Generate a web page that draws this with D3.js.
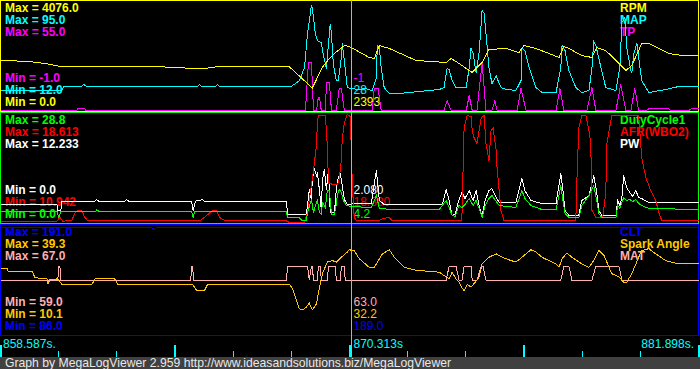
<!DOCTYPE html>
<html>
<head>
<meta charset="utf-8">
<script src="https://cdn.jsdelivr.net/npm/d3@7"></script>
<style>
  html, body { margin: 0; padding: 0; background: #000; }
  svg { display: block; }
  text { font-family: "Liberation Sans", Arial, sans-serif; font-size: 12px; }
  .bold { font-weight: bold; }
  .trace { fill: none; stroke-width: 1; shape-rendering: crispEdges; }
  .ticks path.domain { display: none; }
  .ticks line { stroke: #00ffff; shape-rendering: crispEdges; }
</style>
</head>
<body>
<svg id="chart" width="700" height="369"></svg>
<script>
var windowStart = 858.587
var windowEnd = 881.898
var cursorTime = 870.313
var timeLabels = ["858.587s.", "870.313s", "881.898s."]
var footerText = "Graph by MegaLogViewer 2.959 http://www.ideasandsolutions.biz/MegaLogViewer"

var seriesNames = ["RPM", "MAP", "TP", "DutyCycle1", "AFR(WBO2)", "PW", "CLT", "Spark Angle", "MAT"]
var seriesMax = [4076, 95, 55, 28.8, 18.613, 12.233, 191, 39.3, 67]
var seriesMin = [0, 12, -1, 0, 10.942, 0, 86, 10.1, 59]
var maxDigits = [1, 1, 1, 1, 3, 3, 1, 1, 1]
var minDigits = [1, 1, 1, 1, 3, 1, 1, 1, 1]
var cursorValue = [2393, 28, -1, 4.2, 18.38, 2.08, 189, 32.2, 63]
var cursorDigits = [0, 0, 0, 1, 3, 3, 1, 1, 1]

// [seconds from window start, value]
var rpm = [[0,1889],[1.1,1814],[1.5,1758],[2.1,1627],[4.33,1646],[5.5,1627],[6.5,1571],[6.83,1571],[7.17,1627],
  [9.67,1627],[10.43,842],[10.77,1619],[11,1945],[11.17,2132],[11.5,2431],[11.67,2393],[12.33,1982],[12.5,1945],
  [12.67,2431],[13,2319],[13.9,1870],[14.9,1795],[15.07,1945],[15.33,1758],[15.77,1421],[16.1,1795],[16.33,2281],
  [16.9,2319],[17.33,2169],[17.5,2431],[17.9,2319],[18.33,2132],[18.67,1982],[18.83,2394],[19,2319],[19.43,2057],
  [19.77,1982],[19.93,2356],[20.23,2244],[20.57,1870],[20.9,1496],[21.1,1683],[21.33,2244],[21.43,2506],
  [21.67,2506],[22,2319],[22.33,2132],[22.77,2057],[23.4,2057]]

var map = [[0,27.6],[2.07,27.6],[2.13,30.3],[2.73,30.3],[2.8,31.8],[2.9,30.3],[6.6,30.3],[6.67,31.8],[6.73,30.3],
  [7.2,30.3],[7.27,31.8],[7.33,30.3],[9.73,30.3],[10,34.8],[10.17,44.7],[10.27,70.6],[10.4,91.9],[10.43,90.4],
  [10.53,70.6],[10.6,65.3],[10.73,63.7],[10.77,57.7],[10.9,44],[10.97,63],[11.03,78.2],[11.07,70.6],[11.13,47.8],
  [11.23,34.8],[11.3,34.8],[11.4,52.3],[11.43,63],[11.5,50.1],[11.6,29.5],[11.73,28.7],[12,28],[12.2,28.7],
  [12.43,27.2],[12.57,37.1],[12.6,61.5],[12.67,59.9],[12.73,44.7],[12.83,29.5],[13,24.9],[13.33,24.9],[14,26.5],
  [14.67,28],[14.83,29.5],[14.93,44],[15,43],[15.1,34.8],[15.23,29.5],[15.57,29.5],[15.67,44.7],[15.73,59.2],
  [15.8,55.4],[15.9,40.9],[16,56],[16.1,88.1],[16.17,86],[16.23,70.6],[16.33,44.7],[16.43,32.5],[16.57,38.6],
  [16.67,32.5],[16.77,28.7],[17.23,27.2],[17.4,34.8],[17.43,59.2],[17.53,57.7],[17.67,44.7],[17.9,29.5],
  [18.1,25.7],[18.57,25.7],[18.73,44.7],[18.77,61.5],[18.87,57.7],[19,42.4],[19.23,29.5],[19.43,25.7],
  [19.67,27.2],[19.77,44.7],[19.83,64.5],[19.9,61.5],[20.07,44.7],[20.23,29.5],[20.57,27.2],[20.7,44.7],
  [20.77,79],[20.87,82.8],[20.93,59.9],[21.07,42.4],[21.1,40.9],[21.17,55.4],[21.27,63],[21.33,52.3],
  [21.43,34.8],[21.67,25.7],[22.23,28],[22.67,30.3],[23.4,30.3]]

var tp = [[0,-1],[2.57,-1],[2.6,0],[2.83,0],[2.87,-1],[10.2,-1],[10.3,23.7],[10.4,23.7],[10.47,-1],[10.57,-1],
  [10.63,5.7],[10.67,5.7],[10.73,-1],[10.87,-1],[10.9,13.4],[11,13.4],[11.07,-1],[11.23,-1],[11.33,10.3],
  [11.4,10.3],[11.5,-1],[12.43,-1],[12.5,10.3],[12.63,10.3],[12.73,-1],[14.83,-1],[14.93,4.1],[15.07,-1],
  [15.57,-1],[15.67,6.7],[15.77,-1],[15.93,-1],[16.1,23.7],[16.23,-1],[16.43,-1],[16.53,4.1],[16.6,-1],
  [17.27,-1],[17.4,10.3],[17.57,-1],[18.57,-1],[18.7,10.3],[18.83,-1],[19.6,-1],[19.77,10.8],[19.9,-1],
  [20.57,-1],[20.73,12.4],[20.9,-1],[21.07,-1],[21.2,10.3],[21.33,-1],[21.6,-1],[21.67,0],[22.33,0],
  [22.4,-1],[23,-1],[23.1,0],[23.4,0]]

var duty = [[0,2.98],[1.9,2.98],[1.97,1.32],[2.03,2.98],[3.2,2.98],[3.23,3.43],[3.3,2.98],[6.4,2.98],[6.45,1.32],
  [6.5,2.98],[9.57,2.98],[9.6,1.24],[10,1.24],[10.07,0.66],[10.23,0.66],[10.27,2.64],[10.4,6.07],[10.47,2.64],
  [10.53,4.49],[10.6,5.81],[10.67,2.64],[10.73,2.11],[10.77,5.28],[10.87,3.96],[10.93,8.45],[11,8.45],
  [11.07,2.11],[11.17,2.11],[11.23,4.75],[11.27,7.39],[11.33,8.71],[11.4,7.92],[11.47,5.81],[11.57,4.49],
  [11.73,4.22],[12.4,3.96],[12.57,7.13],[12.67,3.7],[13.1,3.43],[14.67,3.43],[14.9,5.81],[15,3.96],[15.1,1.85],
  [15.2,1.58],[15.33,4.49],[15.43,3.96],[15.53,4.75],[15.67,6.34],[15.8,4.49],[15.9,5.81],[16,3.7],[16.1,1.32],
  [16.2,4.49],[16.33,6.34],[16.43,7.13],[16.57,5.54],[16.67,4.49],[17.23,3.96],[17.43,8.45],[17.53,6.34],
  [17.73,4.49],[18.1,3.43],[18.57,3.43],[18.73,9.77],[18.8,5.81],[18.87,2.38],[19,1.32],[19.33,1.32],
  [19.43,4.49],[19.67,7.13],[19.83,9.77],[19.93,5.81],[20,2.38],[20.1,1.32],[20.57,1.32],[20.63,4.49],
  [20.7,3.7],[20.83,6.6],[20.93,5.81],[21.03,6.07],[21.13,5.54],[21.23,6.07],[21.33,5.02],[21.43,4.49],
  [21.67,3.7],[23.4,3.43]]

var afr = [[0,11.03],[1.9,11.03],[2,11.31],[2.1,11.03],[2.4,11.1],[2.5,11.58],[2.6,11.79],[2.73,11.79],
  [2.83,11.31],[2.93,11.08],[6.67,11.05],[6.83,11.31],[7.1,11.79],[7.23,11.79],[7.33,11.31],[7.5,11.08],
  [9.57,11.05],[9.67,10.94],[10.17,10.94],[10.27,11.65],[10.43,13.97],[10.57,16.36],[10.6,17.98],[10.63,18.47],
  [10.87,18.47],[10.93,16.36],[10.97,13.76],[11.1,13.62],[11.27,13.62],[11.33,13.97],[11.4,15.38],[11.43,16.79],
  [11.5,17.98],[11.6,18.55],[11.7,18.38],[11.77,13.41],[11.83,11.3],[11.9,11.08],[12.67,11.08],[12.77,11.22],
  [13,11.29],[13.1,11.08],[15.4,11.08],[15.43,11.65],[15.5,17.63],[15.6,18.47],[15.73,18.4],[15.77,17.42],
  [15.83,16.93],[15.93,16.5],[16.07,18.33],[16.17,18.47],[16.23,16.5],[16.33,15.31],[16.4,17.42],[16.47,17.56],
  [16.57,16.01],[16.6,14.81],[16.73,11.79],[16.83,11.08],[19.23,11.08],[19.27,14.11],[19.33,17.63],[19.43,18.47],
  [19.57,18.47],[19.67,17.42],[19.73,16.5],[19.77,11.79],[19.9,11.29],[20.13,11.29],[20.23,12.98],[20.27,16.5],
  [20.43,18.47],[21.33,18.47],[21.43,15.52],[21.57,14.11],[21.73,13.19],[21.9,12.49],[22,11.65],[22.1,11.08],
  [23.4,11.08]]

var pw = [[0,2.02],[1.9,2.02],[1.93,1.35],[2.03,1.35],[2.07,2.39],[3.17,2.39],[3.23,2.58],[3.3,2.39],[4.17,2.39],
  [4.23,2.58],[4.3,2.39],[6.4,2.39],[6.45,1.35],[6.53,2.39],[6.77,2.58],[6.83,2.39],[9.57,2.39],[9.6,0.9],
  [10.23,0.9],[10.27,1.91],[10.33,3.7],[10.4,2.58],[10.43,4.82],[10.5,5.95],[10.57,5.27],[10.6,5.61],[10.67,3.59],
  [10.73,1.46],[10.77,4.82],[10.83,5.95],[10.9,3.7],[10.97,5.95],[11.03,1.12],[11.17,1.12],[11.23,3.7],
  [11.3,5.05],[11.37,5.39],[11.43,4.15],[11.5,2.58],[11.6,2.02],[11.73,2.08],[12.4,2.13],[12.57,5.83],
  [12.67,2.47],[12.83,2.02],[14.77,2.02],[14.9,3.7],[15,2.47],[15.1,0.79],[15.2,0.9],[15.33,2.58],[15.43,3.37],
  [15.53,2.69],[15.67,3.59],[15.8,2.47],[15.9,3.59],[16,1.91],[16.1,0.67],[16.2,2.47],[16.33,3.59],[16.43,3.81],
  [16.57,2.81],[16.67,2.24],[17.23,2.24],[17.43,4.94],[17.53,3.59],[17.73,2.47],[18.1,2.13],[18.57,2.13],
  [18.73,5.5],[18.8,3.59],[18.87,1.35],[19,0.79],[19.33,0.79],[19.43,2.47],[19.67,3.03],[19.83,5.27],[19.93,3.37],
  [20,1.35],[20.1,0.79],[20.57,0.79],[20.63,2.47],[20.7,1.91],[20.77,2.81],[20.83,5.27],[20.93,3.93],[21.03,3.37],
  [21.13,2.92],[21.23,3.59],[21.33,2.81],[21.43,2.69],[21.67,2.24],[23.4,2.24]]

var clt = [[0,189],[5.07,189],[5.15,187],[5.23,189],[23.4,189]]

var spark = [[0,27.9],[0.23,27.9],[0.27,27.1],[1.07,27.1],[1.17,25.3],[1.57,25],[1.6,23.7],[1.67,24.8],[1.93,25],
  [2.07,23.5],[3.07,23.5],[3.17,25],[3.83,25],[3.93,23.5],[6.43,23.5],[6.57,21.9],[6.83,21.9],[6.93,23.5],
  [9.67,23.5],[9.77,22.4],[9.9,19.2],[10,17],[10.1,16.7],[10.23,17.4],[10.33,18.5],[10.43,16.7],[10.57,18.3],
  [10.67,22.8],[10.77,26.4],[10.93,29.5],[11.1,29.9],[11.23,29.5],[11.4,30.8],[11.6,32.2],[11.67,32.8],
  [11.83,32.5],[12,30.4],[12.33,28.1],[12.5,28.1],[12.77,31.7],[13,32.8],[13.17,30.8],[13.5,28.1],[13.9,27.3],
  [14.67,26.8],[14.9,25.5],[15,25],[15.1,26.8],[15.23,25],[15.33,24.1],[15.43,22.5],[15.5,21.9],[15.6,23.5],
  [15.73,22.8],[15.9,24.4],[16,25.5],[16.1,29],[16.33,30.8],[16.57,31.7],[16.77,30.8],[17.07,29.9],[17.23,29.5],
  [17.57,31.7],[17.73,32.8],[17.9,32.2],[18.1,30.8],[18.33,29.9],[18.57,29],[18.67,28.1],[18.77,30.4],
  [18.93,31.9],[19.1,30.8],[19.43,29],[19.67,28.1],[19.83,29.9],[20,32.6],[20.17,31.3],[20.43,26.4],
  [20.67,25.5],[20.83,24.1],[20.93,24.1],[21.1,26.4],[21.33,30.8],[21.43,32.6],[21.67,33.1],[21.9,31.7],
  [22.23,29.9],[22.67,29],[23.4,29]]

var mat = [[0,63],[1.93,63],[1.97,64],[2,64],[2.03,63],[6.37,63],[6.4,64],[6.43,64],[6.47,63],[9.57,63],
  [9.6,64],[10.27,64],[10.33,63],[10.4,64],[10.43,64],[10.47,63],[10.6,63],[10.63,64],[10.7,64],[10.73,63],
  [10.93,63],[10.97,64],[11.2,64],[11.23,63],[11.37,63],[11.4,64],[11.5,64],[11.53,63],[14.9,63],[15,64],
  [15.23,64],[15.33,63],[15.43,63],[15.5,64],[15.73,64],[15.77,63],[15.93,63],[16.07,64],[16.13,64],[16.23,63],
  [18.73,63],[18.83,64],[19,64],[19.1,63],[19.77,63],[19.9,64],[20.67,64],[20.77,63],[23.4,63]]

var seriesData = [rpm, map, tp, duty, afr, pw, clt, spark, mat]
var seriesColors = ["#ffff00", "#00ffff", "#ff00ff", "#00ff00", "#ff0000", "#ffffff", "#0000ff", "#ffc800", "#ffafaf"]
var panelColors = ["#ffff00", "#00ff00", "#0000ff"]

var panelHeight = 112
var svg = d3.select("#chart")

svg.append("rect").attr("width", 700).attr("height", 369).attr("fill", "#000")

var x = d3.scaleLinear().domain([0, windowEnd - windowStart]).range([0, 698])
var cursorX = Math.round(x(cursorTime - windowStart)) + 0.5

panelColors.forEach(function (panelColor, p) {
  var top = p * panelHeight
  var g = svg.append("g").attr("transform", "translate(0," + top + ")")
  var ids = [p * 3, p * 3 + 1, p * 3 + 2]

  svg.append("clipPath").attr("id", "clip" + p)
    .append("rect").attr("x", 1).attr("y", top + 1).attr("width", 698).attr("height", 110)

  // labels sit under the traces
  ids.forEach(function (s, k) {
    g.append("text").attr("class", "bold").attr("x", 5).attr("y", 11.5 + 12 * k)
      .attr("fill", seriesColors[s]).text("Max = " + seriesMax[s].toFixed(maxDigits[s]))
    g.append("text").attr("class", "bold").attr("x", 5).attr("y", 106 - 12 * k)
      .attr("fill", seriesColors[s]).text("Min = " + seriesMin[s].toFixed(minDigits[s]))
    g.append("text").attr("class", "bold").attr("x", 620).attr("y", 11.5 + 12 * k)
      .attr("fill", seriesColors[s]).text(seriesNames[s])
  })

  var traces = svg.append("g").attr("clip-path", "url(#clip" + p + ")")
    .append("g").attr("transform", "translate(0," + top + ")")

  ids.slice().reverse().forEach(function (s) {
    var y = d3.scaleLinear().domain([seriesMin[s], seriesMax[s]]).range([110.5, 1.5])
    var line = d3.line()
      .x(function (d) { return x(d[0]) })
      .y(function (d) { return y(d[1]) })
    traces.append("path")
      .datum(seriesData[s])
      .attr("class", "trace")
      .attr("stroke", seriesColors[s])
      .attr("d", line)
  })

  // cursor readout with black backing
  ids.forEach(function (s, k) {
    var lbl = g.append("g")
    var t = lbl.append("text").attr("x", cursorX + 2).attr("y", 106 - 12 * k)
      .attr("fill", seriesColors[s]).text(cursorValue[s].toFixed(cursorDigits[s]))
    var box = t.node().getBBox()
    lbl.insert("rect", "text").attr("x", box.x).attr("y", box.y + 1)
      .attr("width", box.width).attr("height", box.height - 1).attr("fill", "#000")
  })

  g.append("rect").attr("x", 0.5).attr("y", 0.5).attr("width", 698).attr("height", 111)
    .attr("fill", "none").attr("stroke", panelColor).attr("shape-rendering", "crispEdges")
})

// time ruler
var span = windowEnd - windowStart
var tickVals = d3.range(13).map(function (i) { return i * span / 12 })

svg.append("g").attr("class", "ticks").attr("transform", "translate(0,357)")
  .call(d3.axisTop(x).tickValues(tickVals.filter(function (d, i) { return i % 3 })).tickSize(6).tickFormat(""))
svg.append("g").attr("class", "ticks major").attr("transform", "translate(0,357)")
  .call(d3.axisTop(x).tickValues(tickVals.filter(function (d, i) { return !(i % 3) })).tickSize(12).tickFormat(""))
  .selectAll("line").attr("stroke-width", 2)

svg.append("text").attr("x", 3).attr("y", 347.5).attr("fill", "#00ffff").text(timeLabels[0])
svg.append("text").attr("x", cursorX + 2).attr("y", 347.5).attr("fill", "#00ffff").text(timeLabels[1])
svg.append("text").attr("x", 694).attr("y", 347.5).attr("fill", "#00ffff")
  .attr("text-anchor", "end").text(timeLabels[2])

svg.append("line").attr("x1", cursorX).attr("x2", cursorX).attr("y1", 0).attr("y2", 357)
  .attr("stroke", "#00ffff").attr("shape-rendering", "crispEdges")

svg.append("rect").attr("x", 0).attr("y", 357).attr("width", 700).attr("height", 12).attr("fill", "#404040")
svg.append("text").attr("x", 5).attr("y", 367).attr("fill", "#e8e8e8").style("font-size", "12.2px").text(footerText)
</script>
</body>
</html>
